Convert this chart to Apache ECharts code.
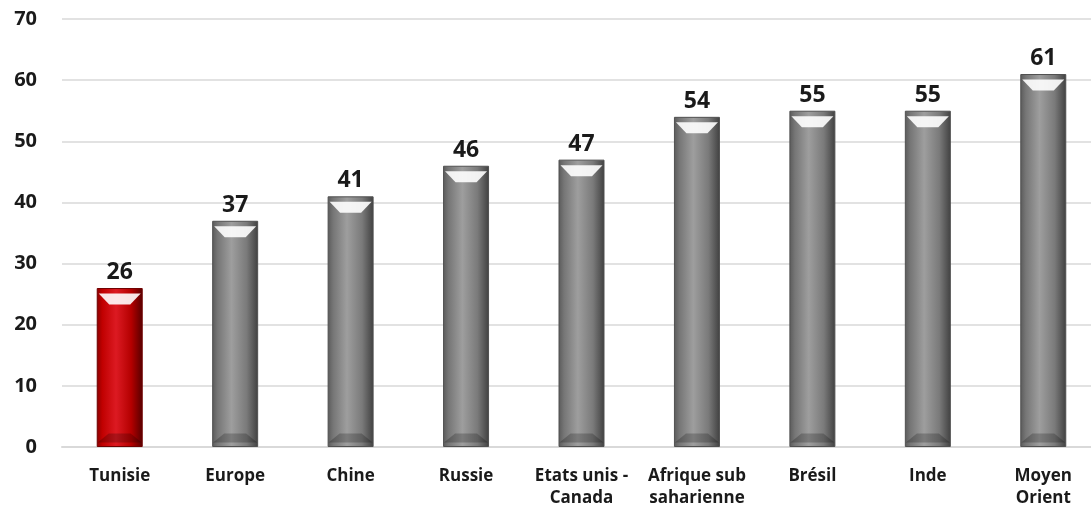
<!DOCTYPE html>
<html>
<head>
<meta charset="utf-8">
<script src="https://cdn.jsdelivr.net/npm/echarts@6/dist/echarts.min.js"></script>
<style>
  html, body { margin: 0; padding: 0; background: #fff; }
  #chart { width: 1091px; height: 508px; }
</style>
</head>
<body>
<div id="chart"></div>
<script>
const categories = ['Tunisie', 'Europe', 'Chine', 'Russie', 'Etats unis -\nCanada', 'Afrique sub\nsaharienne', 'Brésil', 'Inde', 'Moyen\nOrient']
const values = [26, 37, 41, 46, 47, 54, 55, 55, 61]
const highlightIndex = 0

const grayFill = new echarts.graphic.LinearGradient(0, 0, 1, 0, [
  { offset: 0, color: '#5a5a5a' },
  { offset: 0.12, color: '#767676' },
  { offset: 0.42, color: '#9e9e9e' },
  { offset: 0.75, color: '#7a7a7a' },
  { offset: 1, color: '#404040' }
])
const redFill = new echarts.graphic.LinearGradient(0, 0, 1, 0, [
  { offset: 0, color: '#8a0000' },
  { offset: 0.12, color: '#c00000' },
  { offset: 0.42, color: '#dc1a22' },
  { offset: 0.75, color: '#b40000' },
  { offset: 1, color: '#560000' }
])

const chart = echarts.init(document.getElementById('chart'), null, { renderer: 'canvas' })

const font = '"Open Sans", sans-serif'

chart.setOption({
  animation: false,
  backgroundColor: '#fff',
  grid: { left: 62, top: 19, width: 1039, height: 428, containLabel: false, outerBoundsMode: 'none' },
  xAxis: {
    type: 'category',
    data: categories,
    axisLine: { lineStyle: { color: '#d9d9d9', width: 2 } },
    axisTick: { show: false },
    axisLabel: {
      color: '#1a1a1a', fontSize: 17, fontWeight: 'bold', fontFamily: font,
      margin: 18, lineHeight: 22, interval: 0
    }
  },
  yAxis: {
    type: 'value',
    min: 0, max: 70, interval: 10,
    axisLine: { show: false },
    axisTick: { show: false },
    axisLabel: { color: '#1a1a1a', fontSize: 20, fontWeight: 'bold', fontFamily: font, margin: 25 },
    splitLine: { lineStyle: { color: '#d9d9d9', width: 1.5 } }
  },
  series: [
    {
      type: 'bar',
      barWidth: 46,
      data: values.map((v, i) => ({
        value: v,
        itemStyle: {
          color: i === highlightIndex ? redFill : grayFill,
          borderColor: i === highlightIndex ? '#700000' : '#505050',
          borderWidth: 1
        }
      })),
      label: {
        show: true, position: 'top', distance: 4,
        color: '#1a1a1a', fontSize: 23, fontWeight: 'bold', fontFamily: font
      },
      z: 2
    },
    {
      // top bevel highlight
      type: 'pictorialBar',
      data: values,
      symbol: 'path://M0,0 L10,0 L7.5,3 L2.5,3 Z',
      symbolSize: [42, 11],
      symbolPosition: 'end',
      symbolOffset: [0, '50%'],
      itemStyle: { color: 'rgba(255,255,255,0.9)' },
      z: 3,
      silent: true
    },
    {
      // bottom bevel shade
      type: 'pictorialBar',
      data: values,
      symbol: 'path://M2.5,0 L7.5,0 L10,3 L0,3 Z',
      symbolSize: [44, 9],
      symbolPosition: 'start',
      symbolOffset: [0, '-50%'],
      itemStyle: { color: 'rgba(0,0,0,0.22)' },
      z: 3,
      silent: true
    }
  ]
})
</script>
</body>
</html>
